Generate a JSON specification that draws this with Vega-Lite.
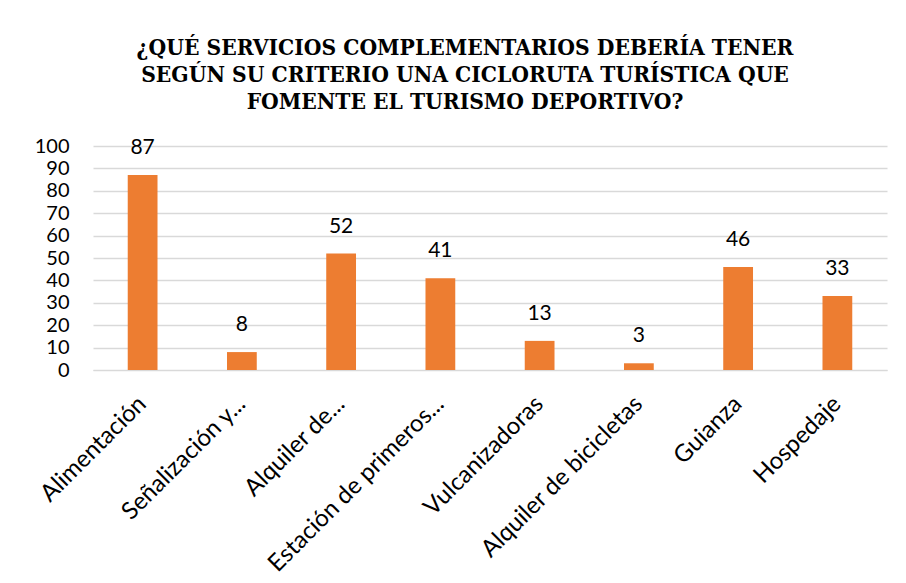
{
  "$schema": "https://vega.github.io/schema/vega-lite/v6.json",
  "width": 794,
  "height": 224,
  "autosize": {"type": "none"},
  "padding": {"left": 93, "top": 146, "right": 19, "bottom": 213},
  "background": "white",
  "title": {
    "text": ["¿QUÉ SERVICIOS COMPLEMENTARIOS DEBERÍA TENER", "SEGÚN SU CRITERIO UNA CICLORUTA TURÍSTICA QUE", "FOMENTE EL TURISMO DEPORTIVO?"],
    "font": "DejaVu Serif Condensed",
    "fontSize": 22.6,
    "fontWeight": "bold",
    "color": "#000000",
    "lineHeight": 27,
    "anchor": "middle",
    "dx": -25,
    "offset": 22
  },
  "data": {
    "values": [
      {"servicio": "Alimentación", "valor": 87},
      {"servicio": "Señalización y...", "valor": 8},
      {"servicio": "Alquiler de...", "valor": 52},
      {"servicio": "Estación de primeros...", "valor": 41},
      {"servicio": "Vulcanizadoras", "valor": 13},
      {"servicio": "Alquiler de bicicletas", "valor": 3},
      {"servicio": "Guianza", "valor": 46},
      {"servicio": "Hospedaje", "valor": 33}
    ]
  },
  "encoding": {
    "x": {
      "field": "servicio",
      "type": "nominal",
      "sort": null,
      "scale": {"paddingInner": 0.7, "paddingOuter": 0.35},
      "axis": {
        "title": null,
        "labelAngle": -45,
        "labelAlign": "right",
        "labelBaseline": "middle",
        "labelFont": "Lato",
        "labelFontSize": 24,
        "labelColor": "#000000",
        "labelLimit": 300,
        "ticks": false,
        "domain": true,
        "domainColor": "#D9D9D9",
        "labelPadding": 30
      }
    },
    "y": {
      "field": "valor",
      "type": "quantitative",
      "scale": {"domain": [0, 100]},
      "axis": {
        "title": null,
        "values": [0, 10, 20, 30, 40, 50, 60, 70, 80, 90, 100],
        "labelFont": "Lato",
        "labelFontSize": 20,
        "labelColor": "#000000",
        "labelPadding": 24,
        "labelOverlap": false,
        "ticks": false,
        "domain": false,
        "gridColor": "#D9D9D9",
        "gridWidth": 1.5
      }
    }
  },
  "layer": [
    {"mark": {"type": "bar", "color": "#ED7D31"}},
    {
      "mark": {"type": "text", "baseline": "bottom", "dy": -17, "font": "Lato", "fontSize": 21, "color": "#000000"},
      "encoding": {"text": {"field": "valor", "type": "quantitative"}}
    }
  ],
  "config": {"view": {"stroke": null}}
}
